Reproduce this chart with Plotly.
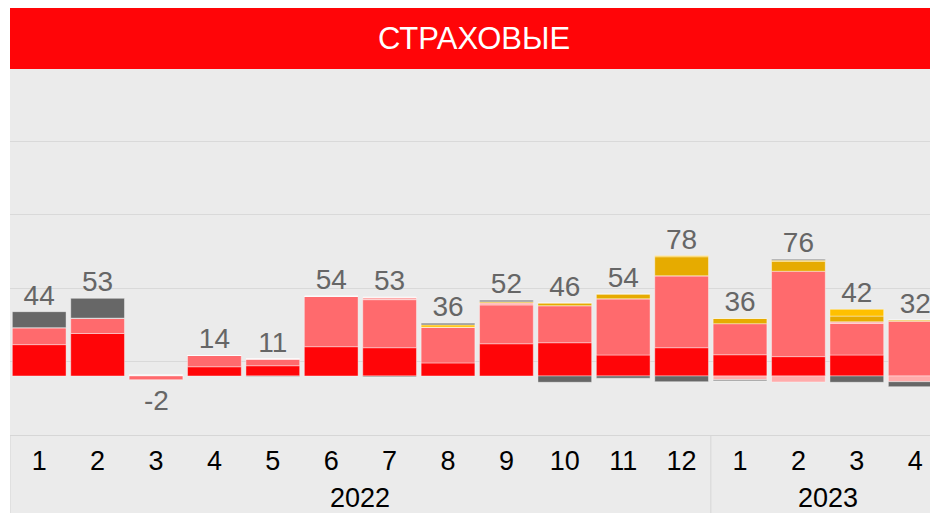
import plotly.graph_objects as go

# ---- data ----
years = ["2022"] * 12 + ["2023"] * 4
months = ["1", "2", "3", "4", "5", "6", "7", "8", "9", "10", "11", "12", "1", "2", "3", "4"]

red = [21.4, 29.0, 0.5, 6.3, 7.0, 20.0, 19.3, 8.9, 22.0, 22.7, 14.3, 19.3, 14.5, 13.2, 14.3, 0.0]
salmon = [11.6, 10.5, -2.5, 7.7, 4.6, 34.4, 32.8, 24.4, 26.5, 25.3, 38.4, 49.1, 21.2, 58.3, 21.6, 37.3]
pale = [0, 0, 0, 0, 0, 0, 1.6, 0, 1.4, 0, 0, 0, -2.5, -4.1, 1.1, -3.9]
gold = [0, 0, 0, 0, 0, 0, 0, 0, 0.8, 1.8, 3.2, 13.0, 3.6, 6.8, 3.9, 0.9]
yellow = [0, 0, 0, 0, 0, 0, 0, 1.6, 0, 0, 0, 0.7, 0, 0.8, 4.6, 0]
gray = [10.9, 13.5, 0, 0, -0.4, 0, -0.6, 1.1, 1.0, -4.3, -1.5, -3.9, -0.8, 0.6, -4.3, -3.4]

totals = [44, 53, -2, 14, 11, 54, 53, 36, 52, 46, 54, 78, 36, 76, 42, 32]

series = [
    ("red", red, "#ff0508"),
    ("salmon", salmon, "#ff6a6d"),
    ("pale", pale, "#ffabab"),
    ("gold", gold, "#e6ab00"),
    ("yellow", yellow, "#ffc000"),
    ("gray", gray, "#676767"),
]

n = len(months)
idx = list(range(n))
FONT = "Liberation Sans, Arial, sans-serif"

fig = go.Figure()
for name, vals, col in series:
    fig.add_trace(go.Bar(
        x=idx, y=vals, name=name,
        marker=dict(color=col, line=dict(color="rgba(255,255,255,0.4)", width=1)),
        hoverinfo="skip",
    ))

# label positions from stacked sums
pos_sum = [sum(v for v in c if v > 0) for c in zip(*[s[1] for s in series])]
neg_sum = [sum(v for v in c if v < 0) for c in zip(*[s[1] for s in series])]

fig.add_trace(go.Scatter(
    x=idx, y=pos_sum, mode="text",
    text=[str(t) if t >= 0 else "" for t in totals],
    textposition="top center",
    textfont=dict(family=FONT, size=28, color="#666666"),
    hoverinfo="skip", cliponaxis=False,
))

W = 930
H = 505
PLOT_TOP = 61
PLOT_BOTTOM = 427
plot_h = PLOT_BOTTOM - PLOT_TOP
axis_band = (H - PLOT_BOTTOM) / plot_h

# year groups: centres and boundaries derived from the years list
groups = []
for i, yv in enumerate(years):
    if not groups or groups[-1][0] != yv:
        groups.append([yv, i, i])
    else:
        groups[-1][2] = i

shapes = [dict(
    type="rect", xref="paper", yref="paper",
    x0=0, x1=1, y0=-axis_band, y1=0,
    fillcolor="#ebebeb", line=dict(width=0), layer="below",
)]
annotations = [dict(
    xref="paper", yref="paper", x=0, y=1, xanchor="left", yanchor="bottom",
    width=928, height=61, bgcolor="#ff0508", borderpad=0, borderwidth=0,
    text="СТРАХОВЫЕ", showarrow=False,
    font=dict(family=FONT, size=31, color="white"),
    align="center", valign="middle",
)]
# negative totals are labelled below the stack
for i, t in enumerate(totals):
    if t < 0:
        annotations.append(dict(
            xref="x", yref="y", x=i, y=neg_sum[i], xanchor="center", yanchor="top",
            yshift=-3, text=str(t), showarrow=False,
            font=dict(family=FONT, size=28, color="#666666"),
        ))
for yv, a, b in groups:
    shapes.append(dict(
        type="line", xref="x", yref="paper", x0=a - 0.5, x1=a - 0.5,
        y0=0, y1=-axis_band, line=dict(color="#d6d6d6", width=1),
    ))
    annotations.append(dict(
        xref="x", yref="paper", x=(a + b) / 2, y=-63 / plot_h,
        xanchor="center", yanchor="middle", text=yv, showarrow=False,
        font=dict(family=FONT, size=27, color="black"),
    ))

fig.update_layout(
    width=W, height=H,
    margin=dict(l=2, r=0, t=PLOT_TOP, b=H - PLOT_BOTTOM, pad=0),
    barmode="relative",
    bargap=0.08,
    showlegend=False,
    paper_bgcolor="white",
    plot_bgcolor="#ebebeb",
    font=dict(family=FONT, color="black"),
    xaxis=dict(
        range=[-0.5, 15.39],
        tickmode="array", tickvals=idx, ticktext=months,
        showgrid=False, zeroline=False,
        showline=True, linecolor="#d6d6d6", linewidth=1,
        tickfont=dict(size=27, color="black"),
        ticks="", ticklabelstandoff=2,
        fixedrange=True,
    ),
    yaxis=dict(
        range=[-40.3, 209.6],
        tick0=10, dtick=50,
        showgrid=True, gridcolor="#d9d9d9", gridwidth=1,
        showticklabels=False, zeroline=False, ticks="",
        fixedrange=True,
    ),
    shapes=shapes,
    annotations=annotations,
)

fig.write_html("out.html")
